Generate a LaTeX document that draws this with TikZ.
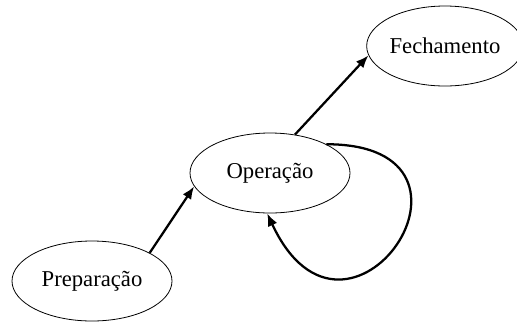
\documentclass[tikz,border=0pt]{standalone}
\usepackage{fontspec}
\setmainfont{Liberation Serif}
\usetikzlibrary{positioning}
\usetikzlibrary{shapes.geometric}
\usetikzlibrary{arrows.meta}

\begin{document}
\begin{tikzpicture}[x=0.75pt, y=-0.75pt,
	every node/.style={font=\fontsize{17}{20}\selectfont},
	phase/.style={ellipse, draw, line width=0.6pt, inner sep=0pt, minimum width=120pt, minimum height=60pt},
	flow/.style={-{Latex[length=9.5pt,width=7.5pt]}, line width=1.7pt}]
				
				\useasboundingbox (0,0) rectangle (517,322);
				
				\node[phase] (P) at (92,281) {Preparação};
				\node[phase] (O) at (270,173) {Operação};
				\node[phase, minimum width=114pt] (F) at (445,46) {Fechamento};
				
				\draw[flow] (P.26) -- (O.190);
				\draw[flow] (O.57) -- (F.187);
				\draw[flow] (O.27) .. controls +(185,0) and +(80,172) .. (O.266);
				
			\end{tikzpicture}
\end{document}
